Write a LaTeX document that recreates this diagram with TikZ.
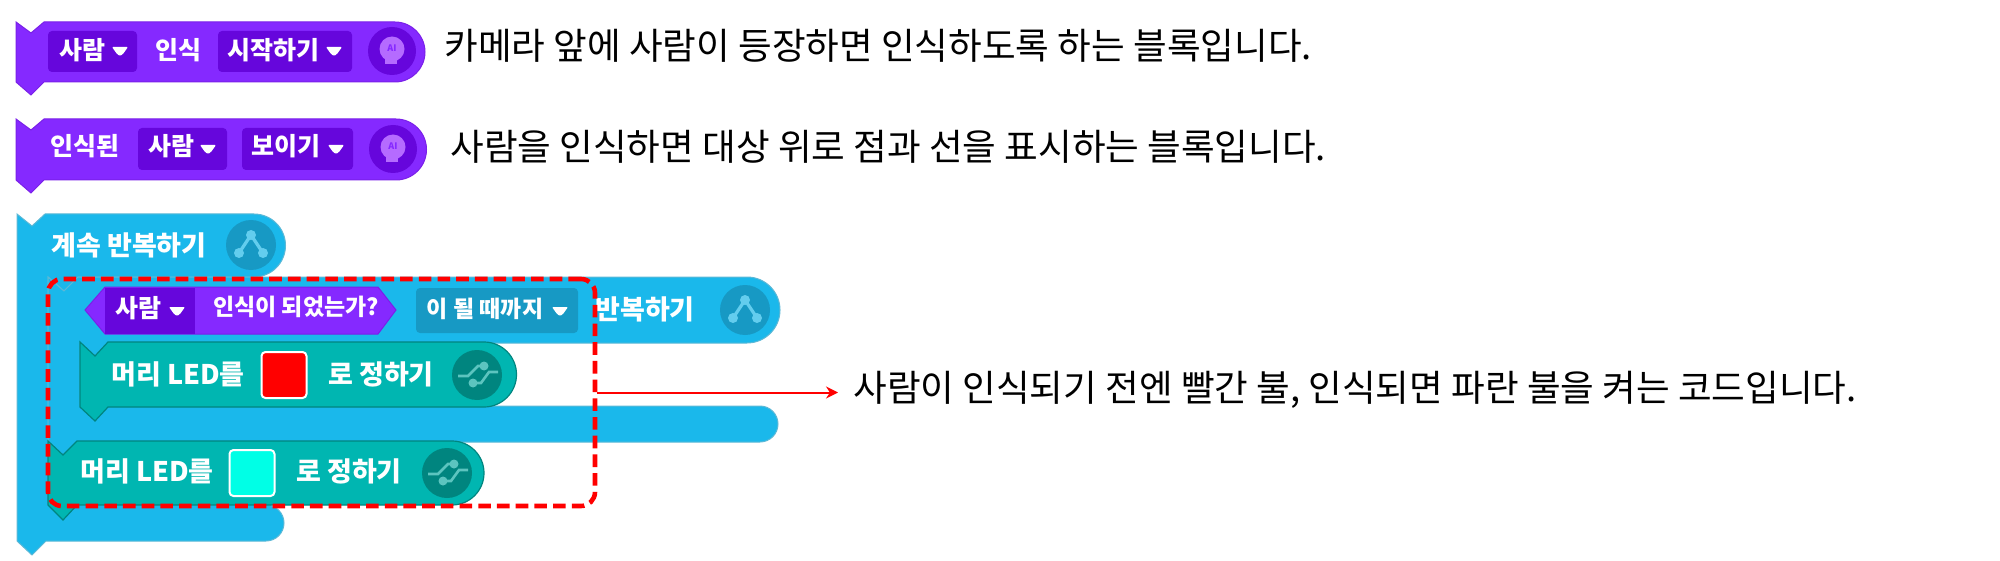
\documentclass[tikz,border=0pt]{standalone}
\usepackage{fontspec}
\setmainfont{Noto Sans CJK KR}
\usetikzlibrary{arrows.meta,calc}

\definecolor{aipurple}{HTML}{8529FF}
\definecolor{aidark}{HTML}{6606DC}
\definecolor{aiedge}{HTML}{7A20E8}
\definecolor{ailight}{HTML}{B56BFF}
\definecolor{flowblue}{HTML}{1AB8EB}
\definecolor{flowdark}{HTML}{1799C4}
\definecolor{flowlight}{HTML}{63CDEE}
\definecolor{ledgreen}{HTML}{00B6B1}
\definecolor{leddark}{HTML}{00857F}
\definecolor{ledlight}{HTML}{5CC4BF}
\definecolor{ledcyan}{HTML}{00FFE6}

\tikzset{
  aiblock/.style={fill=aipurple,draw=aiedge,line width=0.5pt},
  flowblock/.style={fill=flowblue,draw=flowdark!70,line width=0.5pt},
  ledblock/.style={fill=ledgreen,draw=leddark,line width=0.6pt},
  word/.style={text=white,font=\fontsize{12.5}{12.5}\selectfont\bfseries,inner sep=0pt},
  bigword/.style={word,font=\fontsize{13.5}{13.5}\selectfont\bfseries},
  smallword/.style={word,font=\fontsize{11.5}{11.5}\selectfont\bfseries},
  note/.style={text=black,font=\fontsize{18.3}{18.3}\selectfont,anchor=west,inner sep=0pt},
  menu/.style={rounded corners=2pt},
  swatch/.style={draw=white,line width=1pt,rounded corners=2pt,inner sep=0pt,minimum width=22.5pt,minimum height=23pt},
  focusbox/.style={draw=red,line width=2.3pt,dash pattern=on 6.3pt off 3.05pt,rounded corners=7pt,inner sep=0pt}
}

% drop-down triangle
\newcommand{\menutip}[1]{\fill[white,rounded corners=0.5pt] ($(#1)+(-8,-3)$) -- ($(#1)+(8,-3)$) -- ($(#1)+(3,4)$) -- ($(#1)+(0,6)$) -- ($(#1)+(-3,4)$) -- cycle;}
% round icons
\newcommand{\aiicon}[1]{
  \fill[aidark] (#1) circle (24);
  \fill[ailight] ($(#1)+(0,-2)$) circle (12.5);
  \fill[ailight] ($(#1)+(-7,4)$) rectangle ($(#1)+(5,13)$);
  \node[text=aipurple,font=\fontsize{4.5}{4.5}\selectfont\bfseries,inner sep=0pt] at ($(#1)+(0,-3)$) {AI};
}
\newcommand{\flowicon}[1]{
  \fill[flowdark] (#1) circle (25);
  \draw[flowlight,line width=1.6pt] ($(#1)+(-12,8)$) -- ($(#1)+(0,-10)$) -- ($(#1)+(12,8)$);
  \fill[flowlight] ($(#1)+(-12,8)$) circle (5) ($(#1)+(0,-10)$) circle (5) ($(#1)+(12,8)$) circle (5);
}
\newcommand{\ledicon}[1]{
  \fill[leddark] (#1) circle (25);
  \draw[ledlight,line width=1.3pt] ($(#1)+(-19,1)$) -- ($(#1)+(-9,1)$) -- ($(#1)+(1,-9)$) -- ($(#1)+(7,-9)$) ($(#1)+(-4,8)$) -- ($(#1)+(4,8)$) -- ($(#1)+(12,-3)$) -- ($(#1)+(21,-3)$);
  \fill[ledlight] ($(#1)+(7,-9)$) circle (4.5) ($(#1)+(-4,8)$) circle (4.5);
}

\begin{document}
\begin{tikzpicture}[x=0.5pt,y=-0.5pt]
  \useasboundingbox (0,0) rectangle (2000,561);

  % Start block
  \draw[aiblock] (16,22) -- (31,33) -- (44,22) -- (395,22) arc (-90:90:30) -- (44,82) -- (31,95) -- (16,82) -- cycle;
  \fill[aidark,menu] (48,31) rectangle (137,72);
  \fill[aidark,menu] (218,31) rectangle (352,72);
  \node (who1) [word] at (82,50) {사람};
  \node (see1) [word] at (178,50) {인식};
  \node (act1) [word] at (273,50) {시작하기};
  \menutip{120,50}
  \menutip{334,50}
  \aiicon{392,51}

  % Show block
  \draw[aiblock] (16,119) -- (31,130) -- (44,119) -- (396,119) arc (-90:90:30.5) -- (44,180) -- (31,193) -- (16,180) -- cycle;
  \fill[aidark,menu] (138,128) rectangle (227,170);
  \fill[aidark,menu] (242,128) rectangle (353,170);
  \node (seen2) [word] at (85,146) {인식된};
  \node (who2) [word] at (171,146) {사람};
  \node (act2) [word] at (286,146) {보이기};
  \menutip{208,148}
  \menutip{336,148}
  \aiicon{393,149}

  % Outer loop
  \draw[flowblock] (17,214) -- (32,226) -- (45,214) -- (254,214) arc (-90:90:31.5) -- (78,277) -- (64,291) -- (48,277) -- (48,505) -- (266,505) arc (-90:90:18) -- (46,541) -- (32,555) -- (17,541) -- cycle;
  \node (loop3) [bigword] at (129,245) {계속 반복하기};
  \flowicon{251,245}

  % Inner loop
  \draw[flowblock] (48,277) -- (64,291) -- (78,277) -- (747,277) arc (-90:90:33) -- (110,343) -- (95,356) -- (80,343) -- (80,406) -- (760,406) arc (-90:90:18) -- (78,442) -- (63,455) -- (48,442) -- cycle;
  \fill[aipurple,draw=aiedge,line width=0.5pt] (105,287) -- (378,287) -- (396,310) -- (378,334) -- (105,334) -- (85,310) -- cycle;
  \fill[aidark] (105,287.5) rectangle (195,333.5);
  \fill[flowdark,menu] (416,288) rectangle (578,333);
  \node (who3) [word] at (138,308) {사람};
  \node (seen3) [smallword] at (296,307) {인식이 되었는가?};
  \node (until3) [smallword] at (485,309) {이 될 때까지};
  \node (again3) [bigword] at (645,309) {반복하기};
  \menutip{177,310}
  \menutip{560,310}
  \flowicon{745,310}

  % Red LED block
  \draw[ledblock] (80,342) -- (95,356) -- (108,342) -- (484,342) arc (-90:90:32.5) -- (108,407) -- (95,421) -- (80,407) -- cycle;
  \node (head4) [bigword] at (178,374) {머리 LED를};
  \node (red4) [swatch,fill=red] at (284,375) {};
  \node (set4) [bigword] at (381,374) {로 정하기};
  \ledicon{477,375}

  % Cyan LED block
  \draw[ledblock] (48,441) -- (63,455) -- (77,441) -- (452,441) arc (-90:90:32) -- (77,505) -- (63,520) -- (48,505) -- cycle;
  \node (head5) [bigword] at (147,471) {머리 LED를};
  \node (cyan5) [swatch,fill=ledcyan] at (252,473) {};
  \node (set5) [bigword] at (349,471) {로 정하기};
  \ledicon{447,473}

  % Notes
  \node (note1) [note] at (444,46) {카메라 앞에 사람이 등장하면 인식하도록 하는 블록입니다.};
  \node (note2) [note] at (450,147) {사람을 인식하면 대상 위로 점과 선을 표시하는 블록입니다.};
  \node (note3) [note] at (853,390) {사람이 인식되기 전엔 빨간 불, 인식되면 파란 불을 켜는 코드입니다.};

  % Focus box and arrow
  \node (focus) [focusbox,minimum width=273.5pt,minimum height=113.5pt] at (321.5,392.5) {};
  \coordinate (tip3) at (838,392.5);
  \draw[-{Stealth[length=6pt,width=6pt]},red,line width=1pt] (focus.east) -- (tip3);
\end{tikzpicture}
\end{document}
